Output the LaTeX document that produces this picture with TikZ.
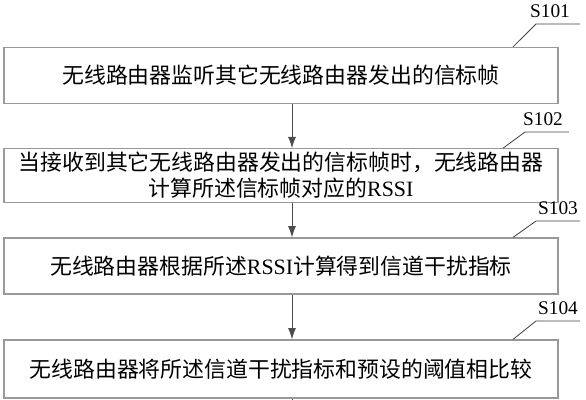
\documentclass[tikz,border=0pt]{standalone}
\usepackage{fontspec}
\setmainfont{Liberation Serif}
\newfontfamily\cjk{Noto Sans CJK SC}
\usetikzlibrary{arrows.meta}
\tikzstyle{stepbox}=[rectangle,draw=black!40,line width=0.9pt,minimum width=415.5pt,minimum height=42pt,inner sep=0pt,align=center,font=\fontsize{16.4}{19.5}\selectfont\cjk]
\tikzstyle{flow}=[-{Latex[length=8.5pt,width=6pt]},draw=black!70,line width=0.7pt]
\tikzstyle{lead}=[draw=black!75,line width=0.6pt]
\tikzstyle{steplabel}=[anchor=south,inner sep=0pt,font=\fontsize{14.5}{15}\selectfont]

\begin{document}
\begin{tikzpicture}[x=0.75pt,y=-0.75pt]
\useasboundingbox (0,0) rectangle (586,400);
\coordinate (ax) at (292,0);
\node[stepbox] (S1) at (281,75.5) {无线路由器监听其它无线路由器发出的信标帧};
\node[stepbox,minimum height=40pt] (S2) at (281,175.5) {当接收到其它无线路由器发出的信标帧时，无线路由器\\计算所述信标帧对应的{\rmfamily RSSI}};
\node[stepbox] (S3) at (281,266) {无线路由器根据所述{\rmfamily RSSI}计算得到信道干扰指标};
\node[stepbox,minimum height=43.5pt] (S4) at (281,369) {无线路由器将所述信道干扰指标和预设的阈值相比较};
\coordinate (end) at (292,400);
\draw[flow](S1.south -| ax)--(S2.north -| ax);
\draw[flow](S2.south -| ax)--(S3.north -| ax);
\draw[flow](S3.south -| ax)--(S4.north -| ax);
\draw[lead,draw=black!70,line width=0.7pt](S4.south -| ax)--(end);
% leaders
\coordinate (tx) at (513,0);
\coordinate (ty) at (503,0);
\coordinate (k1) at (536,24);
\coordinate (k2) at (525,132);
\coordinate (k3) at (536,221);
\coordinate (k4) at (536,321);
\draw[lead](S1.north -| tx)--(k1)--++(44,0);
\draw[lead](S2.north -| ty)--(k2)--++(44,0);
\draw[lead](S3.north -| tx)--(k3)--++(44,0);
\draw[lead](S4.north -| tx)--(k4)--++(44,0);
\node[steplabel] (L1) at (550,18) {S101};
\node[steplabel] (L2) at (543,126) {S102};
\node[steplabel] (L3) at (558,215) {S103};
\node[steplabel] (L4) at (558,315) {S104};
\end{tikzpicture}
\end{document}
